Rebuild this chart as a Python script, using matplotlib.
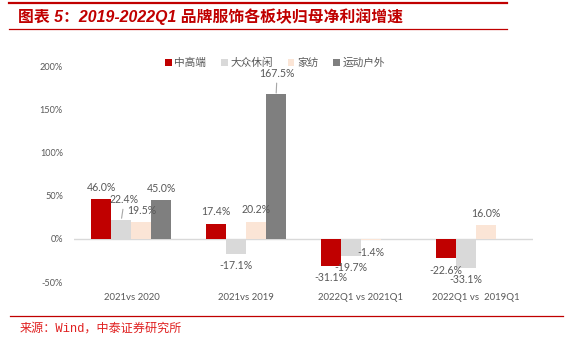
import numpy as np
import matplotlib
matplotlib.use("Agg")
import matplotlib.pyplot as plt
from matplotlib.lines import Line2D
from matplotlib.patches import Patch

# ---------------- data ----------------
categories = ["2021vs 2020", "2021vs 2019", "2022Q1 vs 2021Q1", "2022Q1 vs  2019Q1"]
series_names = ["中高端", "大众休闲", "家纺", "运动户外"]
high_end = [46.0, 17.4, -31.1, -22.6]
mass_casual = [22.4, -17.1, -19.7, -33.1]
home_textile = [19.5, 20.2, -1.4, 16.0]
sports_outdoor = [45.0, 167.5, np.nan, np.nan]
y_ticks = [-50, 0, 50, 100, 150, 200]

title = "图表 5：2019-2022Q1 品牌服饰各板块归母净利润增速"
source = "来源：Wind，中泰证券研究所"

# ---------------- style ----------------
colors = ["#C00000", "#D9D9D9", "#FBE5D6", "#7F7F7F"]
text_gray = "#595959"
red_line = "#C00000"
num_font = ["Lato", "Noto Sans CJK SC"]
cjk_font = ["Noto Sans CJK SC", "DejaVu Sans"]

# label offsets in pixels (dx, dy) for special labels; default +/-12
special_offsets = {(1, 0): (3, 20), (3, 1): (1, 21)}
leader = {(1, 0), (3, 1)}

fig = plt.figure(figsize=(5.8, 3.56), dpi=100)
W, H = 580, 356
ax = fig.add_axes([74 / W, 1 - 282.1 / H, 459 / W, (282.1 - 66.4) / H])

all_series = [high_end, mass_casual, home_textile, sports_outdoor]
n = len(all_series)
bw = 20 / 114.75
x = np.arange(len(categories))

for i, (vals, c) in enumerate(zip(all_series, colors)):
    xs = x + (i - (n - 1) / 2) * bw
    ax.bar(xs, vals, width=bw, color=c, edgecolor="none", zorder=2, label=series_names[i])
    for j, (xx, v) in enumerate(zip(xs, vals)):
        if np.isnan(v):
            continue
        dx, dy = special_offsets.get((i, j), (0, 12 if v >= 0 else -12))
        kw = {}
        if (i, j) in leader:
            kw["arrowprops"] = dict(arrowstyle="-", color="#A6A6A6", lw=0.8,
                                    shrinkA=1, shrinkB=1)
        ax.annotate(f"{v:.1f}%", xy=(xx, v), xytext=(dx, dy),
                    textcoords="offset pixels", ha="center", va="center",
                    fontsize=7.6, color=text_gray, family=num_font, zorder=5, **kw)

ax.axhline(0, color="#D9D9D9", lw=1.0, zorder=1)
ax.set_xlim(-0.5, len(categories) - 0.5)
ax.set_ylim(-50, 200)
ax.set_yticks(y_ticks)
ax.set_yticklabels([f"{t}%" for t in y_ticks], family=num_font, fontsize=6.6, color=text_gray)
ax.set_xticks(x)
ax.set_xticklabels(categories, family=num_font, fontsize=6.9, color=text_gray)
ax.tick_params(axis="y", length=0, pad=8)
ax.tick_params(axis="x", length=0, pad=8)
for s in ax.spines.values():
    s.set_visible(False)
ax.patch.set_alpha(0)

handles = [Patch(facecolor=c, edgecolor="none") for c in colors]
fig.legend(handles, series_names, loc="center", bbox_to_anchor=(275 / W, 1 - 63 / H),
           ncol=4, frameon=False, handlelength=0.6, handleheight=0.6,
           handletextpad=0.25, columnspacing=1.4,
           prop={"family": cjk_font, "size": 7.7}, labelcolor=text_gray)

# header / footer
fig.add_artist(Line2D([9 / W, 507 / W], [1 - 2.5 / H] * 2, color=red_line, lw=1.6,
                      transform=fig.transFigure))
fig.add_artist(Line2D([9 / W, 507 / W], [1 - 29 / H] * 2, color=red_line, lw=0.9,
                      transform=fig.transFigure))
fig.add_artist(Line2D([10 / W, 563 / W], [1 - 316 / H] * 2, color=red_line, lw=0.9,
                      transform=fig.transFigure))
fig.text(18 / W, 1 - 17 / H, title, ha="left", va="center", fontsize=11.4,
         fontweight="bold", fontstyle="italic", color="#C00000",
         family=["Liberation Sans", "Noto Sans CJK SC"])
fig.text(20 / W, 1 - 329 / H, source, ha="left", va="center", fontsize=8.7,
         color="#E02020", family=["Liberation Mono", "Noto Sans CJK SC"])

fig.savefig("out.png", dpi=100, facecolor="white")
